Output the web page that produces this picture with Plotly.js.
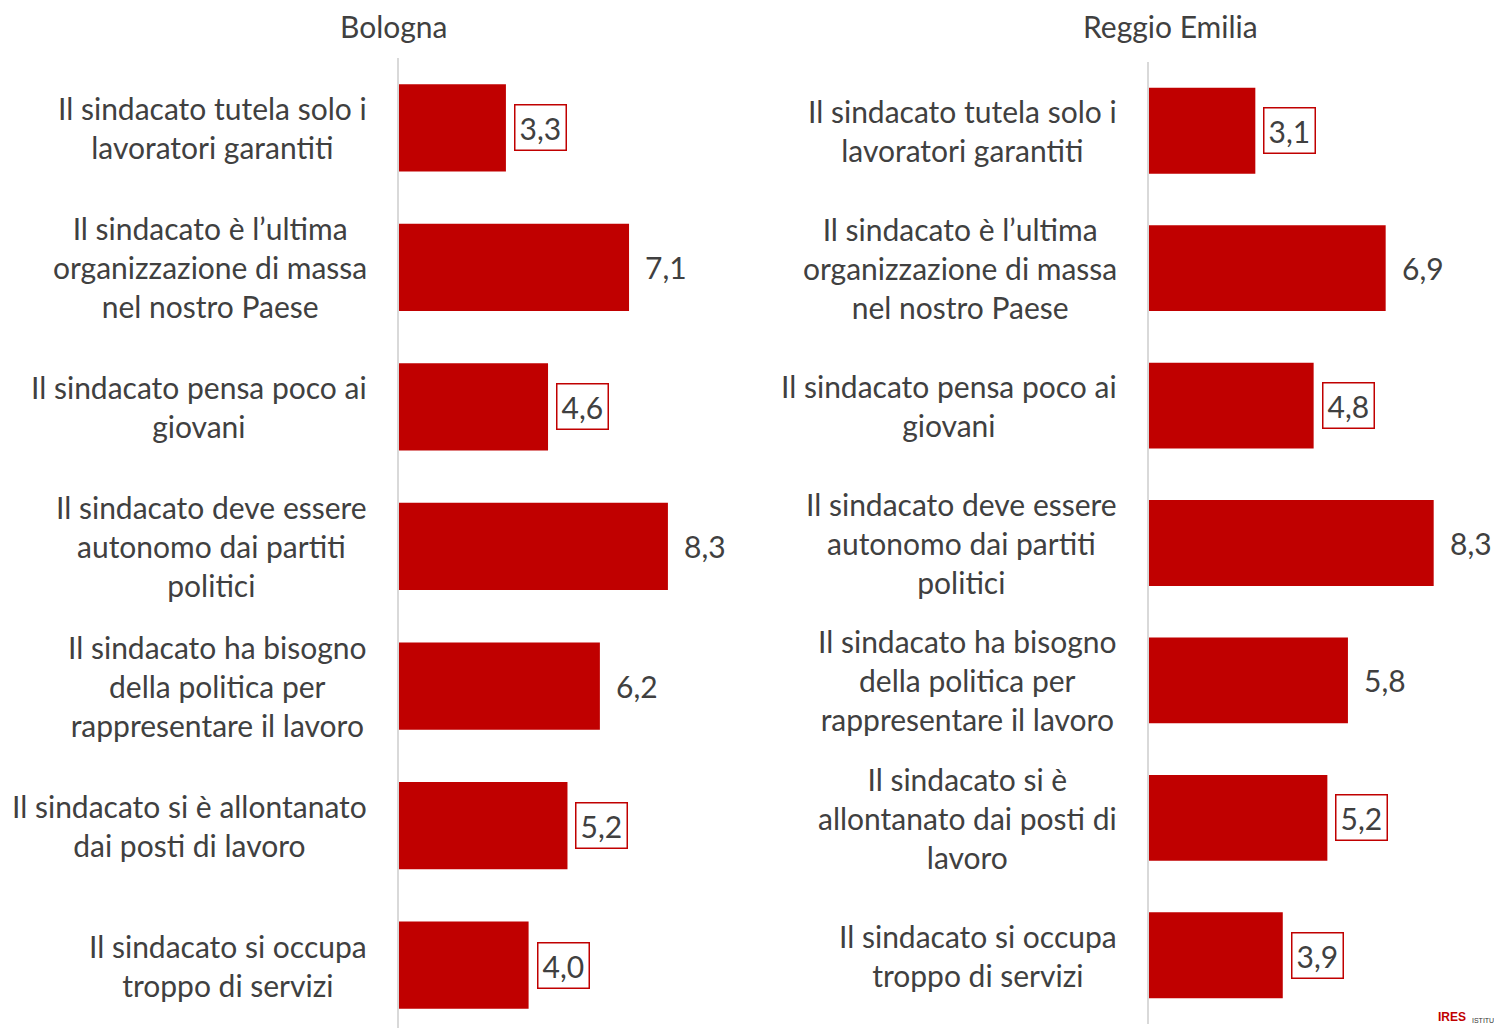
<!DOCTYPE html>
<html><head><meta charset="utf-8">
<script src="https://cdn.plot.ly/plotly-3.0.1.min.js"></script>
<style>html,body{margin:0;padding:0;background:#fff}</style>
</head><body>
<div id="chart" style="width:1494px;height:1028px"></div>
<script>
const categories = [
  "Il sindacato tutela solo i lavoratori garantiti",
  "Il sindacato è l’ultima organizzazione di massa nel nostro Paese",
  "Il sindacato pensa poco ai giovani",
  "Il sindacato deve essere autonomo dai partiti politici",
  "Il sindacato ha bisogno della politica per rappresentare il lavoro",
  "Il sindacato si è allontanato dai posti di lavoro",
  "Il sindacato si occupa troppo di servizi"
];
const labelsBologna = [
  "Il sindacato tutela solo i<br>lavoratori garantiti",
  "Il sindacato è l’ultima<br>organizzazione di massa<br>nel nostro Paese",
  "Il sindacato pensa poco ai<br>giovani",
  "Il sindacato deve essere<br>autonomo dai partiti<br>politici",
  "Il sindacato ha bisogno<br>della politica per<br>rappresentare il lavoro",
  "Il sindacato si è allontanato<br>dai posti di lavoro",
  "Il sindacato si occupa<br>troppo di servizi"
];
const labelsReggio = [
  "Il sindacato tutela solo i<br>lavoratori garantiti",
  "Il sindacato è l’ultima<br>organizzazione di massa<br>nel nostro Paese",
  "Il sindacato pensa poco ai<br>giovani",
  "Il sindacato deve essere<br>autonomo dai partiti<br>politici",
  "Il sindacato ha bisogno<br>della politica per<br>rappresentare il lavoro",
  "Il sindacato si è<br>allontanato dai posti di<br>lavoro",
  "Il sindacato si occupa<br>troppo di servizi"
];
const valuesBologna = [3.3, 7.1, 4.6, 8.3, 6.2, 5.2, 4.0];
const valuesReggio  = [3.1, 6.9, 4.8, 8.3, 5.8, 5.2, 3.9];
const boxedBologna = [true, false, true, false, false, true, true];
const boxedReggio  = [true, false, true, false, false, true, true];
const titles = ["Bologna", "Reggio Emilia"];

const W = 1494, H = 1028;
const RED = "#C00000", TXT = "#404040";
const FONT = "Lato, 'Open Sans', sans-serif";
const FS = 30;
const fmt = v => v.toFixed(1).replace(".", ",");

const traces = [
  {type:"bar", orientation:"h", x:valuesBologna, y:categories, xaxis:"x", yaxis:"y",
   marker:{color:RED}, hoverinfo:"none", showlegend:false},
  {type:"bar", orientation:"h", x:valuesReggio, y:categories, xaxis:"x2", yaxis:"y2",
   marker:{color:RED}, hoverinfo:"none", showlegend:false}
];

const annotations = [];
function addPanel(vals, boxed, labels, xa, ya, labelRight) {
  vals.forEach((v, i) => {
    const a = {xref:xa, yref:ya, x:v, y:categories[i], text:fmt(v), showarrow:false,
      xanchor:"left", yanchor:"middle", font:{family:FONT, size:FS, color:TXT}};
    if (boxed[i]) {
      a.bordercolor = RED; a.borderwidth = 1.5; a.borderpad = 4; a.bgcolor = "#fff"; a.xshift = 8;
    } else {
      a.xshift = 14;
    }
    annotations.push(a);
    annotations.push({xref:"paper", yref:ya, x:labelRight / W, y:categories[i], text:labels[i],
      showarrow:false, xanchor:"right", yanchor:"middle", align:"center",
      font:{family:FONT, size:FS, color:TXT}});
  });
}
addPanel(valuesBologna, boxedBologna, labelsBologna, "x", "y", 369);
addPanel(valuesReggio, boxedReggio, labelsReggio, "x2", "y2", 1119);

annotations.push({xref:"paper", yref:"paper", x:393/W, y:1-26/H, text:titles[0], showarrow:false,
  xanchor:"center", yanchor:"middle", font:{family:FONT, size:FS, color:TXT}});
annotations.push({xref:"paper", yref:"paper", x:1170/W, y:1-26/H, text:titles[1], showarrow:false,
  xanchor:"center", yanchor:"middle", font:{family:FONT, size:FS, color:TXT}});
// small logo fragment
annotations.push({xref:"paper", yref:"paper", x:1436/W, y:2/H, text:"<b>IRES</b>", showarrow:false,
  xanchor:"left", yanchor:"bottom", font:{family:"Liberation Sans", size:12, color:RED}});
annotations.push({xref:"paper", yref:"paper", x:1470/W, y:2/H, text:"ISTITU", showarrow:false,
  xanchor:"left", yanchor:"bottom", font:{family:"Liberation Sans Narrow, Liberation Sans", size:7, color:"#333"}});

const layout = {
  width:W, height:H, margin:{l:0, r:0, t:0, b:0}, paper_bgcolor:"#fff", plot_bgcolor:"rgba(0,0,0,0)",
  bargap:0.375, font:{family:FONT, color:TXT},
  xaxis:{domain:[399/W, 723/W], range:[0, 10], showgrid:false, zeroline:false, showticklabels:false,
         showline:false, fixedrange:true},
  yaxis:{domain:[0, 1-58/H], range:[6.45, -0.5], type:"category", showgrid:false, zeroline:false,
         showticklabels:false, showline:true, linecolor:"#d9d9d9", linewidth:2, ticks:"", anchor:"x"},
  xaxis2:{domain:[1149/W, 1492/W], range:[0, 10], showgrid:false, zeroline:false, showticklabels:false,
          showline:false, anchor:"y2"},
  yaxis2:{domain:[4/H, 1-62/H], range:[6.5, -0.5], type:"category", showgrid:false, zeroline:false,
          showticklabels:false, showline:true, linecolor:"#d9d9d9", linewidth:2, ticks:"", anchor:"x2"},
  annotations:annotations
};
Plotly.newPlot("chart", traces, layout, {staticPlot:true, displayModeBar:false});
</script>
</body></html>
